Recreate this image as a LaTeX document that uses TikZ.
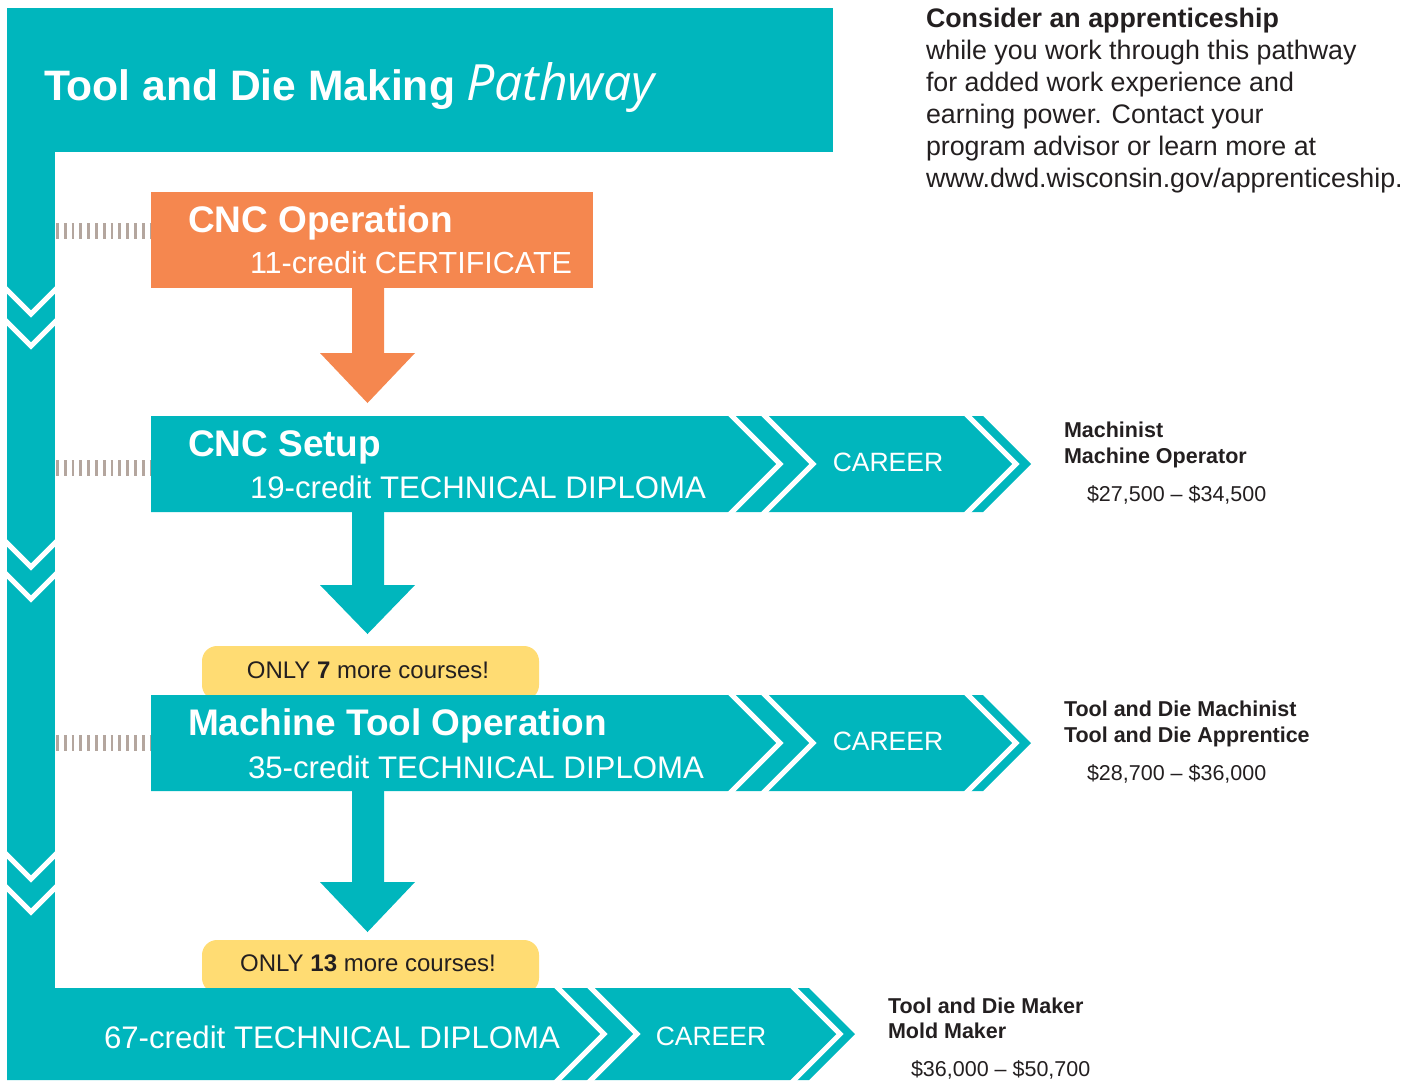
\documentclass[tikz,border=0pt]{standalone}
\usepackage{fontspec}
\setmainfont{Liberation Sans}
\newfontfamily\tdscript{Open Sans}
\definecolor{tdteal}{HTML}{00B6BD}
\definecolor{tdorange}{HTML}{F5874F}
\definecolor{tdyellow}{HTML}{FFDC73}
\definecolor{tdhash}{HTML}{B4A69E}
\definecolor{tdtext}{HTML}{231F20}
\newcommand{\tdfs}[1]{\fontsize{#1}{#1}\selectfont}
\tikzset{
  tdwhite/.style={white,line width=5pt},
  tdhashline/.style={tdhash,line width=16pt,dash pattern=on 2.8pt off 5pt},
  tdlbl/.style={anchor=base west,inner sep=0pt,outer sep=0pt},
  tdtitle/.style={tdlbl,white,font=\tdfs{37}\bfseries},
  tdsub/.style={tdlbl,white,font=\tdfs{31.2}},
  tdcareer/.style={anchor=base,inner sep=0pt,white,font=\tdfs{26.5}},
  tdjob/.style={tdlbl,tdtext,font=\tdfs{21.5}\bfseries},
  tdpay/.style={tdlbl,tdtext,font=\tdfs{21.5}},
  tdpara/.style={tdlbl,tdtext,font=\tdfs{26.8}},
  tdonly/.style={anchor=base,inner sep=0pt,tdtext,font=\tdfs{24}},
}
\begin{document}
\begin{tikzpicture}[x=1pt,y=-1pt]
\useasboundingbox (0,0) rectangle (1420,1080);
\clip (0,0) rectangle (1420,1080);

% header and left bar
\fill[tdteal] (7,8) rectangle (833,152);
\fill[tdteal] (7,150) rectangle (55,990);
\node[tdlbl,white,font=\tdfs{42.6}\bfseries] (title) at (44,100) {Tool and Die Making};
\node[tdlbl,white,font=\tdscript\tdfs{50}\itshape] (pathway) at (466,100) {Pathway};

% left bar chevrons
\foreach \yy in {290,322,543,575,855,888}
  \draw[tdwhite] (3,\yy-4) -- (31,\yy+24) -- (59,\yy-4);

% hash connectors
\coordinate (h1a) at (56,231); \coordinate (h1b) at (150,231);
\coordinate (h2a) at (56,468); \coordinate (h2b) at (150,468);
\coordinate (h3a) at (56,743); \coordinate (h3b) at (150,743);
\draw[tdhashline] (h1a) -- (h1b);
\draw[tdhashline] (h2a) -- (h2b);
\draw[tdhashline] (h3a) -- (h3b);

% CNC Operation (orange)
\fill[tdorange] (151,192) rectangle (593,288);
\node[tdtitle] (cncop) at (188,232) {CNC Operation};
\node[tdsub,font=\tdfs{30.5}] (cert) at (250,273.5) {11-credit CERTIFICATE};
\fill[tdorange] (352,286) -- (384,286) -- (384,353) -- (415,353) -- (367.5,403) -- (320,353) -- (352,353) -- cycle;

% CNC Setup row
\fill[tdteal] (151,416) -- (983,416) -- (1031,464) -- (983,512) -- (151,512) -- cycle;
\foreach \sx in {732,765,968}
  \draw[tdwhite] (\sx-4,412) -- (\sx+48,464) -- (\sx-4,516);
\node[tdtitle] (cncsetup) at (188,456) {CNC Setup};
\node[tdsub] (dip19) at (250,498) {19-credit TECHNICAL DIPLOMA};
\node[tdcareer] (car1) at (888,471.5) {CAREER};
\fill[tdteal] (352,510) -- (384,510) -- (384,585) -- (415,585) -- (367.5,634) -- (320,585) -- (352,585) -- cycle;

% yellow tab 1
\fill[tdyellow, rounded corners=15pt] (202,700) -- (202,646) -- (539,646) -- (539,700) -- cycle;
\node[tdonly] (only7) at (368,678.5) {ONLY \textbf{7} more courses!};

% Machine Tool Operation row
\fill[tdteal] (151,695) -- (983,695) -- (1031,743) -- (983,791) -- (151,791) -- cycle;
\foreach \sx in {732,765,968}
  \draw[tdwhite] (\sx-4,691) -- (\sx+48,743) -- (\sx-4,795);
\node[tdtitle] (mto) at (188,735) {Machine Tool Operation};
\node[tdsub] (dip35) at (248,778) {35-credit TECHNICAL DIPLOMA};
\node[tdcareer] (car2) at (888,750.5) {CAREER};
\fill[tdteal] (352,789) -- (384,789) -- (384,882) -- (415,882) -- (367.5,932) -- (320,882) -- (352,882) -- cycle;

% yellow tab 2
\fill[tdyellow, rounded corners=15pt] (202,993) -- (202,940) -- (539,940) -- (539,993) -- cycle;
\node[tdonly] (only13) at (368,971.5) {ONLY \textbf{13} more courses!};

% bottom row
\fill[tdteal] (7,988) -- (809,988) -- (855,1034) -- (809,1080) -- (7,1080) -- cycle;
\foreach \sx in {558,591,794}
  \draw[tdwhite] (\sx-4,984) -- (\sx+46,1034) -- (\sx-4,1084);
\node[tdsub] (dip67) at (104,1048) {67-credit TECHNICAL DIPLOMA};
\node[tdcareer] (car3) at (711,1045.5) {CAREER};

% right-hand texts
\node[tdpara,font=\tdfs{26.8}\bfseries] (p1) at (926,27.5) {Consider an apprenticeship};
\node[tdpara] (p2) at (926,59.5) {while you work through this pathway};
\node[tdpara] (p3) at (926,91.5) {for added work experience and};
\node[tdpara] (p4) at (926,123.5) {earning power. Contact your};
\node[tdpara] (p5) at (926,155.5) {program advisor or learn more at};
\node[tdpara] (p6) at (926,187.5) {www.dwd.wisconsin.gov/apprenticeship.};

\node[tdjob] (j1a) at (1064,437) {Machinist};
\node[tdjob] (j1b) at (1064,463) {Machine Operator};
\node[tdpay] (s1) at (1087,501.5) {\$27,500 -- \$34,500};

\node[tdjob] (j2a) at (1064,716) {Tool and Die Machinist};
\node[tdjob] (j2b) at (1064,742) {Tool and Die Apprentice};
\node[tdpay] (s2) at (1087,780.5) {\$28,700 -- \$36,000};

\node[tdjob] (j3a) at (888,1013) {Tool and Die Maker};
\node[tdjob] (j3b) at (888,1038.5) {Mold Maker};
\node[tdpay] (s3) at (911,1076.5) {\$36,000 -- \$50,700};
\end{tikzpicture}
\end{document}
